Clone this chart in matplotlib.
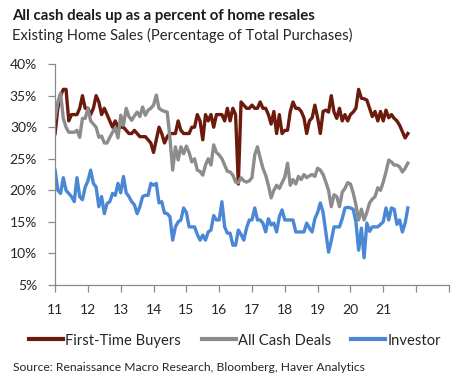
import numpy as np
import matplotlib
matplotlib.use("Agg")
import matplotlib.pyplot as plt
from matplotlib.ticker import FuncFormatter

plt.rcParams['font.family'] = ['Lato', 'DejaVu Sans']

# monthly values, Jan 2011 .. Oct 2021 (percent of total purchases)
first_time_buyers = [
    29, 33, 35, 36, 36, 31, 32, 32, 32, 33, 35, 33,              # 2011
    33, 32, 33, 35, 34, 32, 33, 32, 31, 30, 31, 30,              # 2012
    30, 30, 29.5, 29, 29, 29.5, 29, 28.5, 28.5, 28.5, 28, 27.5,  # 2013
    26, 28, 30, 29, 27.5, 28.5, 29, 29, 29, 31, 29.5, 29,        # 2014
    29, 29, 30, 30, 32, 31, 28, 32, 31, 32, 30, 32,              # 2015
    32, 32, 31, 33, 31, 33, 32, 21, 34, 33.5, 33, 33,            # 2016
    33.5, 33, 33, 34, 33, 33, 32, 30.5, 32.5, 29, 32, 29,        # 2017
    29.5, 29.5, 32.5, 34, 33, 33, 32.5, 31.5, 29, 31, 31.5, 33.5,  # 2018
    31.5, 29, 32.5, 32.7, 32.4, 35, 32.4, 31.4, 33, 31, 32, 31,  # 2019
    32, 32.4, 33, 36, 34.6, 34.5, 34.3, 33, 31.7, 32.5, 31, 32.5,  # 2020
    31, 32.7, 31.5, 32, 31.4, 31, 30.3, 29.3, 28.3, 29,          # 2021
]

all_cash_deals = [
    31.5, 34, 35.4, 31.4, 30, 29.2, 29.2, 29.2, 29.5, 28.4, 31.4, 31.4,
    33, 31, 30.5, 30, 28.4, 28.6, 27.5, 27.5, 28.4, 29.2, 29.9, 28.3,
    31.9, 30.3, 33, 31.7, 31.1, 31.8, 32.4, 31.7, 33.2, 31.9, 32.7, 33,
    33.5, 35.1, 33, 32.7, 32.5, 32.4, 28.3, 23.2, 26.9, 24.8, 26.9, 25.8,
    27, 26, 24.5, 25, 23.2, 23, 22.4, 24, 25, 24, 27.2, 26,
    25.6, 25, 24, 23, 22.9, 22.4, 21.3, 21.2, 22, 21.5, 21.3, 21.5,
    22, 25.6, 26.9, 25.1, 23.5, 22.4, 20.8, 18.8, 20, 20.8, 20.3, 21.2,
    22.1, 24.3, 20.8, 21.7, 21, 22.2, 21.7, 22.5, 22, 22.3, 22.5, 22.2,
    23.5, 23.2, 22.5, 21.3, 20, 17.4, 19.3, 19, 17.4, 19.7, 20.3, 21.2,
    21, 19.6, 17.7, 15.3, 17, 15.3, 16.5, 18, 18.6, 19, 20.4, 20,
    21.3, 22.9, 24.8, 24.5, 24, 24, 23.7, 22.9, 23.5, 24.3,
]

investor = [
    23.2, 20, 19.5, 22, 20, 19.5, 19, 18.2, 22, 19, 18.5, 20.5,
    21.5, 23.2, 21.1, 20.5, 17.4, 19, 16.3, 17.9, 18.2, 19.5, 19.2, 21.1,
    19.6, 22.2, 19.6, 19, 18.2, 17.7, 16.3, 17.4, 19, 19.2, 19.2, 21.1,
    20.8, 21.1, 18, 18.2, 16.4, 16.3, 15.8, 12.1, 14.2, 15, 15.3, 17.2,
    16.5, 14.2, 14.2, 14.2, 13, 12.1, 12.9, 12.1, 13.4, 13.7, 16, 15.3,
    15.3, 18.2, 14.2, 13.2, 13.2, 11.3, 11.3, 13.7, 13, 12.1, 14, 15.3,
    15.3, 17.2, 15.3, 15.3, 14.8, 13.4, 15.5, 14.5, 14.8, 13.4, 15.8, 16.9,
    15.3, 15.3, 15.3, 15.3, 13.4, 13.4, 13.4, 13.4, 14.8, 14, 13.4, 15.5,
    16.5, 18, 16.5, 13.4, 10.2, 12, 14.2, 14.2, 14.2, 15.5, 17.2, 17.3,
    17.2, 17, 15, 10.5, 14, 9.3, 14.8, 13.5, 14.2, 14.2, 14.2, 14.6,
    15, 17.2, 15.3, 17.2, 17, 14.6, 15.3, 13.4, 14.8, 17.2,
]

year_labels = ["11", "12", "13", "14", "15", "16", "17", "18", "19", "20", "21", ""]
y_ticks = [5, 10, 15, 20, 25, 30, 35, 40]

start_year = 2011
months = start_year + np.arange(len(first_time_buyers)) / 12.0

fig = plt.figure(figsize=(4.75, 3.84), dpi=100)
ax = fig.add_axes([0.116, 0.258, 0.829, 0.575])

lw = 2.4
ax.plot(months, first_time_buyers, color="#6b1a0c", lw=lw, label="First-Time Buyers")
ax.plot(months, all_cash_deals, color="#8c8c8c", lw=lw, label="All Cash Deals")
ax.plot(months, investor, color="#4a88d6", lw=lw, label="Investor")

ax.set_xlim(start_year, start_year + len(year_labels))
ax.set_xticks(np.arange(start_year, start_year + len(year_labels) + 1))
ax.set_xticklabels(year_labels + [""])
ax.set_ylim(5, 40)
ax.set_yticks(y_ticks)
ax.yaxis.set_major_formatter(FuncFormatter(lambda v, p: f"{v:.0f}%"))

for side in ("top", "right"):
    ax.spines[side].set_visible(False)
for side in ("left", "bottom"):
    ax.spines[side].set_color("#8a8a8a")
    ax.spines[side].set_linewidth(0.9)

ax.tick_params(axis="both", colors="#8a8a8a", length=5, width=0.9,
               labelsize=10, labelcolor="#262626")
ax.tick_params(axis="y", pad=8)
ax.tick_params(axis="x", pad=9)

fig.text(0.025, 0.958, "All cash deals up as a percent of home resales",
         fontsize=10.8, fontweight="bold", color="#1a1a1a", va="center")
fig.text(0.025, 0.908, "Existing Home Sales (Percentage of Total Purchases)",
         fontsize=10.6, color="#262626", va="center")

leg = fig.legend(loc="center", bbox_to_anchor=(0.495, 0.113), ncol=3, frameon=False,
                 fontsize=10.6, handlelength=2.3, handletextpad=0.15,
                 columnspacing=1.4)
for line in leg.get_lines():
    line.set_linewidth(3)
for t in leg.get_texts():
    t.set_color("#262626")

fig.text(0.027, 0.042, "Source: Renaissance Macro Research, Bloomberg, Haver Analytics",
         fontsize=8.7, color="#262626", va="center")

fig.savefig("out.png", dpi=100)
